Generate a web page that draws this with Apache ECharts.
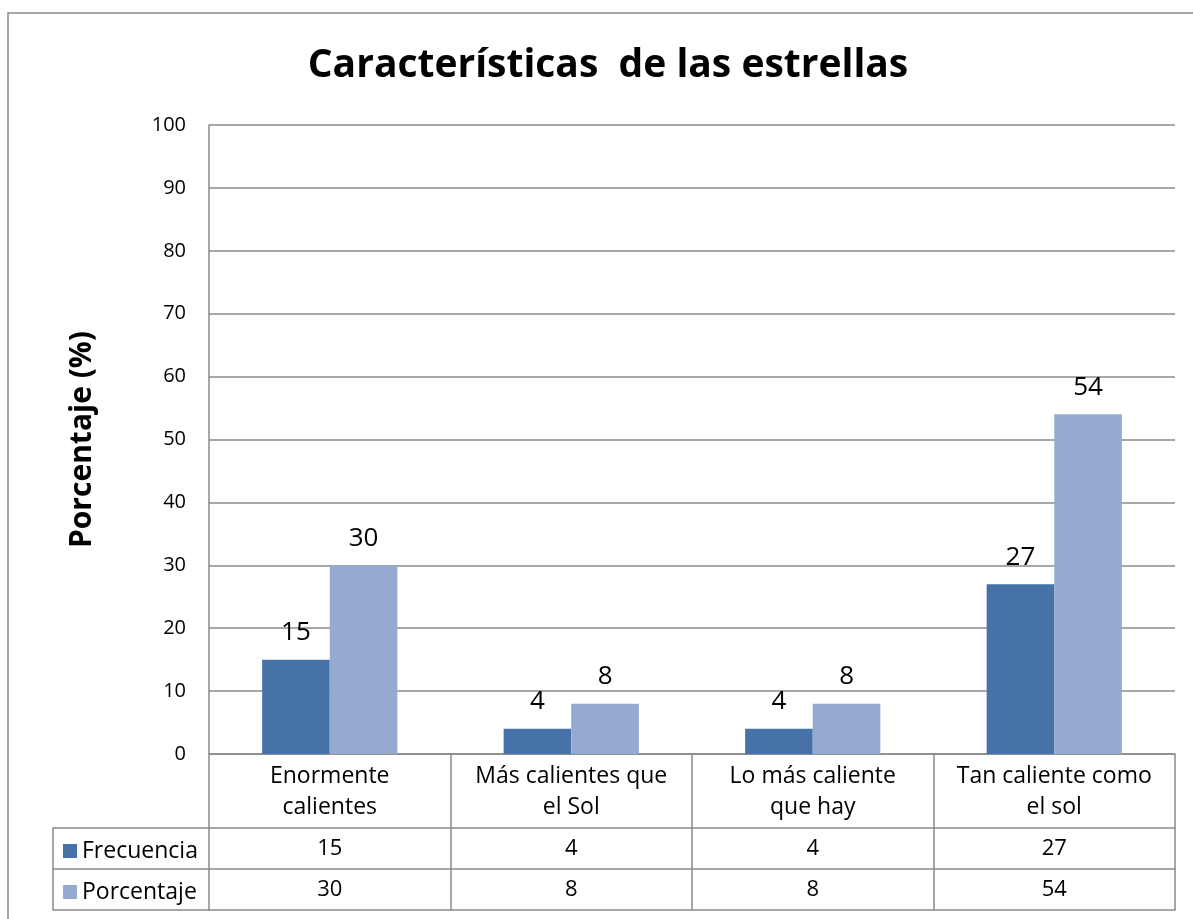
<!DOCTYPE html>
<html>
<head>
<meta charset="utf-8">
<script src="https://cdn.jsdelivr.net/npm/echarts@6/dist/echarts.min.js"></script>
<style>
  html, body { margin: 0; padding: 0; background: #fff; }
  #chart { width: 1193px; height: 919px; }
</style>
</head>
<body>
<div id="chart"></div>
<script>
// datos del gráfico
var categorias = ['Enormente\ncalientes', 'Más calientes que\nel Sol', 'Lo más caliente\nque hay', 'Tan caliente como\nel sol']
var frecuencia = [15, 4, 4, 27]
var porcentaje = [30, 8, 8, 54]
var serieNombres = ['Frecuencia', 'Porcentaje']
var colores = ['#4672a8', '#95aad1']

var fuente = 'Open Sans'
var gris = '#8a8a8a'

var chart = echarts.init(document.getElementById('chart'))

// ejes extra para las filas de la tabla de datos
function filaEje(valores, offset, showLabel) {
  return {
    type: 'category',
    gridIndex: 0,
    position: 'bottom',
    offset: offset,
    data: valores.map(function(v) { return String(v) }),
    axisLine: { show: true, lineStyle: { color: gris, width: 1.5 } },
    axisTick: { show: showLabel, length: 41, lineStyle: { color: gris, width: 1.5 } },
    axisLabel: {
      show: showLabel,
      interval: 0,
      margin: 0,
      color: '#000',
      fontFamily: fuente,
      fontSize: 22,
      lineHeight: 41
    },
    splitLine: { show: false }
  }
}

var option = {
  backgroundColor: '#fff',
  animation: false,
  title: {
    text: 'Características  de las estrellas',
    left: 603,
    top: 41,
    textAlign: 'center',
    textStyle: {
      fontFamily: fuente,
      fontWeight: 'bold',
      fontSize: 39,
      color: '#000'
    }
  },
  legend: {
    orient: 'vertical',
    left: 63,
    top: 839,
    padding: 0,
    itemGap: 17,
    itemWidth: 14,
    itemHeight: 14,
    icon: 'rect',
    data: serieNombres,
    textStyle: { fontFamily: fuente, fontSize: 23, lineHeight: 24, color: '#000' }
  },
  grid: {
    left: 209,
    right: 18,
    top: 125,
    bottom: 165
  },
  xAxis: [
    {
      type: 'category',
      data: categorias,
      axisLine: { show: true, lineStyle: { color: gris, width: 1.5 } },
      axisTick: { show: true, length: 74, lineStyle: { color: gris, width: 1.5 } },
      axisLabel: {
        interval: 0,
        margin: 7,
        color: '#000',
        fontFamily: fuente,
        fontSize: 23,
        lineHeight: 31
      }
    },
    filaEje(frecuencia, 74, true),
    filaEje(porcentaje, 115, true),
    filaEje(porcentaje, 156, false)
  ],
  yAxis: {
    type: 'value',
    min: 0,
    max: 100,
    interval: 10,
    name: 'Porcentaje (%)',
    nameLocation: 'middle',
    nameGap: 112,
    nameTextStyle: { fontFamily: fuente, fontWeight: 'bold', fontSize: 30, color: '#000' },
    axisLine: { show: true, lineStyle: { color: gris, width: 1.5 } },
    axisTick: { show: false },
    axisLabel: { margin: 23, color: '#000', fontFamily: fuente, fontSize: 20 },
    splitLine: { lineStyle: { color: gris, width: 1.5 } }
  },
  graphic: [
    {
      type: 'polyline',
      shape: { points: [[209, 828], [53, 828], [53, 910], [209, 910]] },
      style: { stroke: gris, lineWidth: 1.5, fill: null }
    },
    {
      type: 'line',
      shape: { x1: 53, y1: 869, x2: 209, y2: 869 },
      style: { stroke: gris, lineWidth: 1.5 }
    },
    {
      type: 'polyline',
      shape: { points: [[8, 919], [8, 13], [1193, 13]] },
      style: { stroke: gris, lineWidth: 1.5, fill: null }
    }
  ],
  series: [
    {
      name: serieNombres[0],
      type: 'bar',
      data: frecuencia,
      barWidth: '28%',
      barGap: '0%',
      itemStyle: { color: colores[0] },
      label: { show: true, position: 'top', distance: 14, color: '#000', fontFamily: fuente, fontSize: 26 }
    },
    {
      name: serieNombres[1],
      type: 'bar',
      data: porcentaje,
      barWidth: '28%',
      barGap: '0%',
      itemStyle: { color: colores[1] },
      label: { show: true, position: 'top', distance: 14, color: '#000', fontFamily: fuente, fontSize: 26 }
    }
  ]
}

chart.setOption(option)
</script>
</body>
</html>
